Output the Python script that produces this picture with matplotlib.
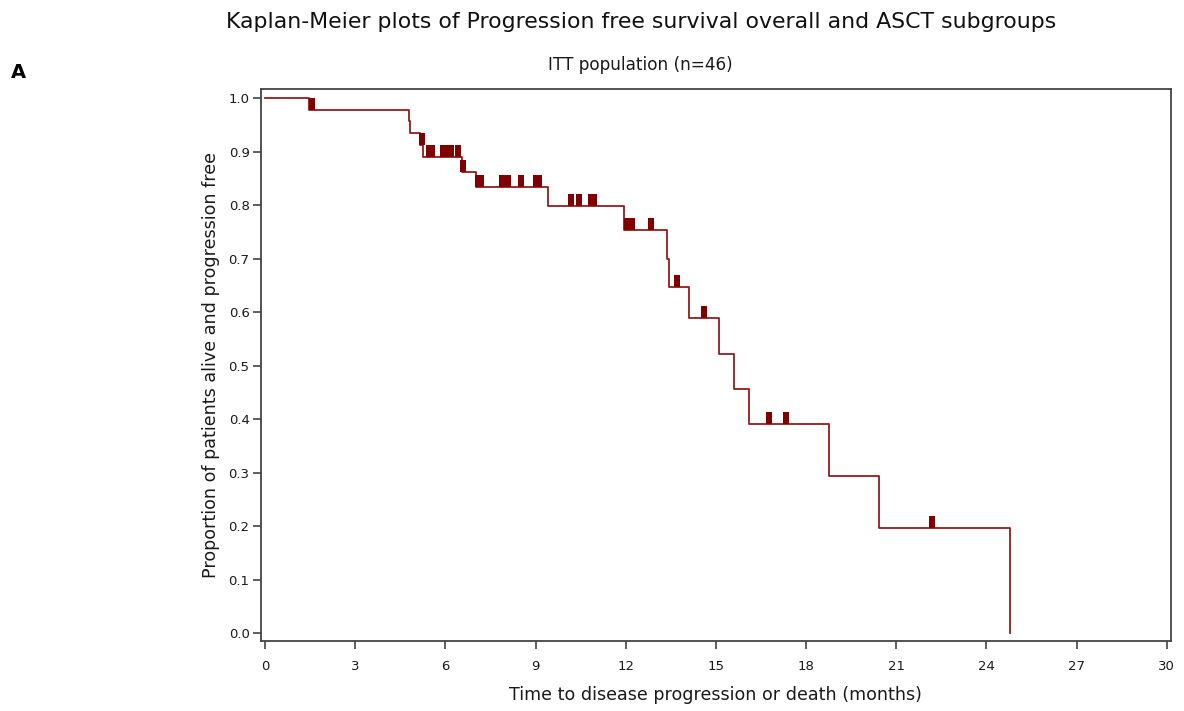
import numpy as np
import matplotlib
matplotlib.use("Agg")
import matplotlib.pyplot as plt
from matplotlib.path import Path

# ---- data ----
step_times = [0.0, 1.45, 4.79, 4.84, 5.15, 5.27, 6.56, 7.02, 9.41, 11.95,
              13.39, 13.44, 14.11, 15.11, 15.59, 16.09, 18.76, 20.42, 24.80]
survival = [1.000, 0.978, 0.957, 0.935, 0.913, 0.891, 0.863, 0.835, 0.799, 0.753,
            0.700, 0.647, 0.589, 0.522, 0.457, 0.391, 0.294, 0.196, 0.000]
censor_times = [1.55, 5.21, 5.44, 5.56, 5.93, 6.05, 6.18, 6.43, 6.58,
                7.08, 7.20, 7.88, 8.10, 8.51, 9.03, 9.12,
                10.19, 10.46, 10.83, 10.95, 12.05, 12.20, 12.84,
                13.71, 14.61, 16.77, 17.32, 22.19]
x_ticks = [0, 3, 6, 9, 12, 15, 18, 21, 24, 27, 30]
y_ticks = [0.0, 0.1, 0.2, 0.3, 0.4, 0.5, 0.6, 0.7, 0.8, 0.9, 1.0]

title = "Kaplan-Meier plots of Progression free survival overall and ASCT subgroups"
subtitle = "ITT population (n=46)"
xlabel = "Time to disease progression or death (months)"
ylabel = "Proportion of patients alive and progression free"
panel = "A"

# ---- figure ----
W, H = 1184, 711
fig = plt.figure(figsize=(W / 100, H / 100), dpi=100)
ax = fig.add_axes([260.7 / W, 1 - 640.7 / H, (1170.7 - 260.7) / W, (640.7 - 89) / H])

line_color = "#931c1c"
mark_color = "#800000"

ax.step(step_times, survival, where="post", color=line_color, lw=1.3, zorder=2)

st = np.array(step_times)
sv = np.array(survival)
ct = np.array(censor_times)
idx = np.searchsorted(st, ct, side="right") - 1
c_levels = sv[idx]

rect = Path([(-0.28, 0), (0.28, 0), (0.28, 1), (-0.28, 1), (-0.28, 0)],
            [Path.MOVETO, Path.LINETO, Path.LINETO, Path.LINETO, Path.CLOSEPOLY])
ax.plot(ct, c_levels, linestyle="none", marker=rect, markersize=16.85,
        markerfacecolor=mark_color, markeredgewidth=0, zorder=3)

ax.set_xlim(-0.143, 30.13)
ax.set_ylim(-0.0138, 1.0174)
ax.set_xticks(x_ticks)
ax.set_xticklabels([str(v) for v in x_ticks])
ax.set_yticks(y_ticks)
ax.set_yticklabels([f"{v:.1f}" for v in y_ticks])

for s in ax.spines.values():
    s.set_color("#444444")
    s.set_linewidth(1.3)
ax.tick_params(axis="both", direction="out", length=6, width=1.2, color="#444444",
               labelsize=9.5, labelcolor="#1a1a1a")
ax.tick_params(axis="x", pad=8)
ax.tick_params(axis="y", pad=2)

ax.set_xlabel(xlabel, fontsize=12.6, color="#1a1a1a", labelpad=9)
ax.set_ylabel(ylabel, fontsize=12.6, color="#1a1a1a", labelpad=6)

fig.text(641 / W, 1 - 22 / H, title, ha="center", va="center", fontsize=15.8, color="#111111")
fig.text(640 / W, 1 - 65 / H, subtitle, ha="center", va="center", fontsize=12.2, color="#1a1a1a")
fig.text(18 / W, 1 - 73 / H, panel, ha="center", va="center", fontsize=14, fontweight="bold", color="#000000")

fig.savefig("out.png", dpi=100)
